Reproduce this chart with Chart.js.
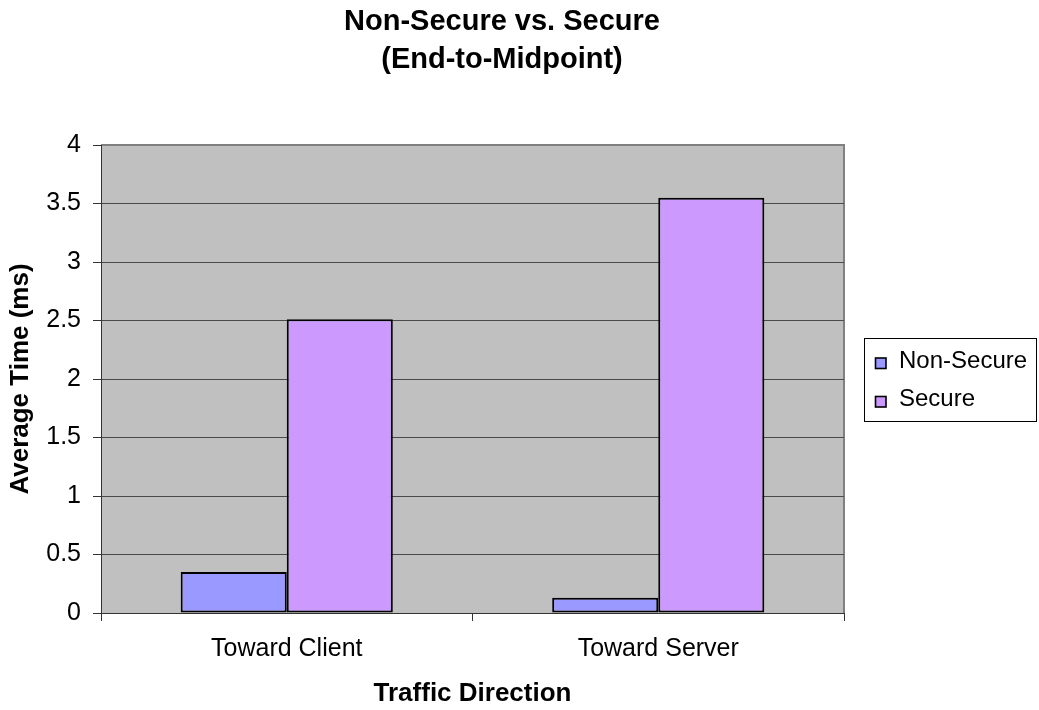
<!DOCTYPE html>
<html>
<head>
<meta charset="utf-8">
<script src="https://cdn.jsdelivr.net/npm/chart.js@4/dist/chart.umd.min.js"></script>
<style>
  html, body { margin: 0; padding: 0; background: #ffffff; }
  #wrap { position: relative; width: 1039px; height: 710px; }
</style>
</head>
<body>
<div id="wrap"><canvas id="c"></canvas></div>
<script>
const FONT = '"Liberation Sans", Arial, sans-serif';

const titleLines = ['Non-Secure vs. Secure', '(End-to-Midpoint)'];
const categories = ['Toward Client', 'Toward Server'];
const seriesNames = ['Non-Secure', 'Secure'];
const nonSecureValues = [0.35, 0.13];
const secureValues = [2.51, 3.55];
const seriesColors = ['#9999FF', '#CC99FF'];
const yTickLabels = ['0', '0.5', '1', '1.5', '2', '2.5', '3', '3.5', '4'];
const yTitle = 'Average Time (ms)';
const xTitle = 'Traffic Direction';

const plotBackground = {
  id: 'plotBackground',
  beforeDraw(chart) {
    const {ctx, chartArea: a} = chart;
    ctx.save();
    ctx.fillStyle = '#C0C0C0';
    ctx.fillRect(a.left, a.top, a.right - a.left, a.bottom - a.top);
    ctx.strokeStyle = '#808080';
    ctx.lineWidth = 2;
    ctx.beginPath();
    ctx.moveTo(a.left, a.top);
    ctx.lineTo(a.right, a.top);
    ctx.lineTo(a.right, a.bottom);
    ctx.stroke();
    ctx.restore();
  }
};

const chartTitle = {
  id: 'chartTitle',
  afterDraw(chart) {
    const {ctx} = chart;
    const cx = 502;
    ctx.save();
    ctx.fillStyle = '#000';
    ctx.font = 'bold 29px ' + FONT;
    ctx.textAlign = 'center';
    ctx.textBaseline = 'alphabetic';
    ctx.fillText(titleLines[0], cx, 30);
    ctx.fillText(titleLines[1], cx, 67.5);
    ctx.restore();
  }
};

const boxLegend = {
  id: 'boxLegend',
  afterDraw(chart) {
    const {ctx} = chart;
    ctx.save();
    ctx.strokeStyle = '#000';
    ctx.lineWidth = 1;
    ctx.strokeRect(864.5, 338.5, 172, 83);
    ctx.font = '24px ' + FONT;
    ctx.textAlign = 'left';
    ctx.textBaseline = 'alphabetic';
    const rows = [358, 396.5];
    chart.data.datasets.forEach((ds, i) => {
      const y = rows[i];
      ctx.fillStyle = ds.backgroundColor;
      ctx.fillRect(875.5, y, 10.5, 10.5);
      ctx.lineWidth = 1.6;
      ctx.strokeStyle = '#000';
      ctx.strokeRect(875.5, y, 10.5, 10.5);
      ctx.fillStyle = '#000';
      ctx.fillText(ds.label, 899, y + 9.5);
    });
    ctx.restore();
  }
};

new Chart(document.getElementById('c'), {
  type: 'bar',
  data: {
    labels: categories,
    datasets: [
      { label: seriesNames[0], data: nonSecureValues, backgroundColor: seriesColors[0] },
      { label: seriesNames[1], data: secureValues, backgroundColor: seriesColors[1] }
    ]
  },
  options: {
    responsive: true,
    maintainAspectRatio: false,
    animation: false,
    devicePixelRatio: 1,
    layout: { padding: { top: 145, right: 195, left: 0, bottom: 0 } },
    datasets: {
      bar: {
        categoryPercentage: 0.571,
        barPercentage: 1,
        borderColor: '#000000',
        borderWidth: 2,
        borderSkipped: false
      }
    },
    plugins: {
      legend: { display: false },
      title: { display: false },
      tooltip: { enabled: false }
    },
    scales: {
      x: {
        afterFit(s) { s.height = 97; },
        offset: true,
        grid: {
          offset: true,
          drawOnChartArea: false,
          drawTicks: true,
          tickLength: 8,
          color: '#333333',
          tickColor: '#333333'
        },
        border: { display: true, color: '#333333', width: 1 },
        ticks: { color: '#000', padding: 13, font: { family: FONT, size: 25 } },
        title: {
          display: true, text: xTitle, color: '#000',
          padding: { top: 0, bottom: 1 },
          font: { family: FONT, size: 26, weight: 'bold' }
        }
      },
      y: {
        afterFit(s) { s.width = 101; },
        min: 0, max: 4,
        ticks: {
          stepSize: 0.5, color: '#000', padding: 12,
          font: { family: FONT, size: 25 },
          callback: (v, i) => yTickLabels[i]
        },
        grid: {
          drawTicks: true,
          tickLength: 8,
          color: (c) => (c.tick && c.tick.value === 4 ? 'rgba(0,0,0,0)' : '#4a4a4a'),
          tickColor: '#333333',
          lineWidth: 1
        },
        border: { display: true, color: '#333333', width: 1 },
        title: {
          display: true, text: yTitle, color: '#000',
          padding: { top: 5, bottom: 0 },
          font: { family: FONT, size: 26, weight: 'bold' }
        }
      }
    }
  },
  plugins: [plotBackground, chartTitle, boxLegend]
});
</script>
</body>
</html>
